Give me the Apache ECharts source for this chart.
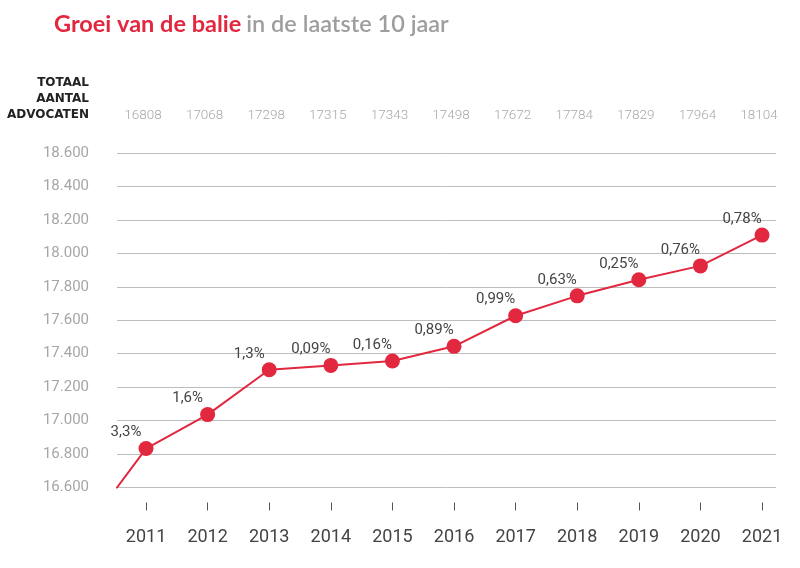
<!DOCTYPE html>
<html><head><meta charset="utf-8">
<script src="https://cdn.jsdelivr.net/npm/echarts@6/dist/echarts.min.js"></script>
<style>html,body{margin:0;padding:0;background:#fff}#c{width:800px;height:568px}</style>
</head><body><div id="c"></div>
<script>
// Years (2010 is only used for the line segment that enters from the left edge)
const years = [2010, 2011, 2012, 2013, 2014, 2015, 2016, 2017, 2018, 2019, 2020, 2021];
// Plotted values
const values = [16338, 16833, 17036, 17304, 17330, 17356, 17444, 17627, 17746, 17842, 17925, 18109];
// Growth labels shown above the points
const growth = ['', '3,3%', '1,6%', '1,3%', '0,09%', '0,16%', '0,89%', '0,99%', '0,63%', '0,25%', '0,76%', '0,78%'];
// Label years and the total number of lawyers (top row)
const labelYears = [2011, 2012, 2013, 2014, 2015, 2016, 2017, 2018, 2019, 2020, 2021];
const totals = [16808, 17068, 17298, 17315, 17343, 17498, 17672, 17784, 17829, 17964, 18104];

const RED = '#e1283f';
const chart = echarts.init(document.getElementById('c'), null, {renderer: 'canvas'});

const xMin = 2010.529, xMax = 2021.227;

chart.setOption({
  animation: false,
  backgroundColor: '#fff',
  title: {
    left: 49, top: 7,
    text: '{a|Groei van de balie} {b|in de laatste 10 jaar}',
    textStyle: {
      rich: {
        a: {color: RED, fontFamily: 'Lato', fontWeight: 700, fontSize: 23.5},
        b: {color: '#9e9e9e', fontFamily: 'Lato', fontWeight: 600, fontSize: 23.5}
      }
    }
  },
  graphic: [{
    type: 'text', x: 89, y: 99,
    style: {
      text: 'TOTAAL\nAANTAL\nADVOCATEN',
      align: 'right', verticalAlign: 'middle',
      font: 'bold 12px "DejaVu Sans"', lineHeight: 16, fill: '#222'
    }
  }],
  grid: {left: 117, right: 24, top: 153, bottom: 80.5, containLabel: false},
  xAxis: [{
    type: 'value', min: xMin, max: xMax, position: 'bottom', offset: 15,
    axisLine: {show: false},
    axisTick: {show: true, length: 8, customValues: labelYears, lineStyle: {color: '#555', width: 1}},
    splitLine: {show: false},
    axisLabel: {customValues: labelYears, margin: 26, color: '#444', fontSize: 18, fontFamily: 'Roboto',
      formatter: v => String(v)}
  }, {
    type: 'value', min: xMin, max: xMax, position: 'top',
    axisLine: {show: false}, axisTick: {show: false}, splitLine: {show: false},
    axisLabel: {customValues: labelYears, margin: 30, color: '#a8a8a8', fontSize: 13.5, fontFamily: 'Roboto', fontWeight: 300,
      padding: [0, 6, 0, 0],
      formatter: v => String(totals[labelYears.indexOf(Math.round(v))])}
  }],
  yAxis: {
    type: 'value', min: 16600, max: 18600, interval: 200,
    axisLine: {show: false}, axisTick: {show: false},
    splitLine: {lineStyle: {color: '#bdbdbd', width: 1}},
    axisLabel: {margin: 28, color: '#a6a6a6', fontSize: 15, fontFamily: 'Roboto',
      formatter: v => v.toLocaleString('de-DE', {useGrouping: true})}
  },
  series: [{
    type: 'line', clip: true,
    data: years.map((y, i) => i === 0
      ? {value: [y, values[i]], symbolSize: 0, label: {show: false}}
      : {value: [y, values[i]]}),
    symbol: 'circle', symbolSize: 15,
    itemStyle: {color: RED},
    lineStyle: {color: RED, width: 2},
    label: {show: true, position: 'top', distance: 4, offset: [-20, 3],
      color: '#444', fontSize: 15, fontFamily: 'Roboto',
      formatter: p => growth[p.dataIndex]}
  }]
});
</script></body></html>
